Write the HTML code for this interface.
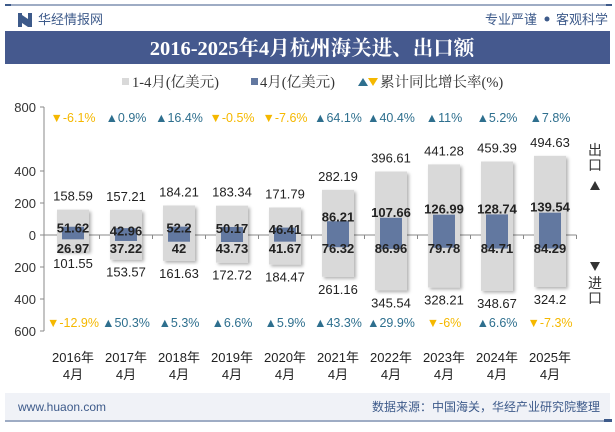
<!DOCTYPE html>
<html><head><meta charset="utf-8"><style>
body{margin:0;width:615px;height:427px;overflow:hidden;background:#fff;font-family:"Liberation Sans","Noto Sans CJK SC",sans-serif;}
</style></head><body>
<svg id="c" width="615" height="427" xmlns="http://www.w3.org/2000/svg" font-family="Liberation Sans, Noto Sans CJK SC, sans-serif">
<defs><filter id="sh" x="-20%" y="-10%" width="150%" height="130%"><feDropShadow dx="2" dy="2" stdDeviation="1.5" flood-color="#000" flood-opacity="0.3"/></filter></defs>
<rect x="0" y="0" width="615" height="427" fill="#fff"/>
<line x1="5" y1="5" x2="612" y2="5" stroke="#3d5a8a" stroke-width="1"/>
<rect x="5" y="4" width="6" height="2" fill="#3d5a8a"/><rect x="606" y="4" width="6" height="2" fill="#3d5a8a"/>
<g><rect x="18" y="13" width="4" height="14" fill="#3d5a8a"/><path d="M22 15 L28 19 L28 27 L22 23Z" fill="#3d5a8a"/><rect x="28" y="13" width="4" height="14" fill="#3d5a8a"/></g>
<text x="38" y="24" font-size="13" fill="#3d5a8a">华经情报网</text>
<text x="537" y="24" font-size="13" fill="#3d5a8a" text-anchor="end">专业严谨</text>
<circle cx="547" cy="19" r="2.5" fill="#3d5a8a"/>
<text x="608" y="24" font-size="13" fill="#3d5a8a" text-anchor="end">客观科学</text>
<rect x="5" y="31" width="605" height="33" fill="#45598e"/>
<text x="312" y="55" font-size="20.5" font-weight="bold" fill="#fff" text-anchor="middle" font-family="Liberation Serif, Noto Serif CJK SC, serif">2016-2025年4月杭州海关进、出口额</text>
<g>
<rect x="122" y="78" width="7" height="7" fill="#d9d9d9"/><text x="132" y="87" font-size="14.5" fill="#333" font-family="Liberation Serif, Noto Serif CJK SC, serif">1-4月(亿美元)</text>
<rect x="251" y="78" width="7" height="7" fill="#6278a0"/><text x="260" y="87" font-size="14.5" fill="#333" font-family="Liberation Serif, Noto Serif CJK SC, serif">4月(亿美元)</text>
<path d="M358 86 L363 78 L368 86Z" fill="#2e6f8e"/><path d="M368 78 L378 78 L373 86Z" fill="#f5b800"/>
<text x="380" y="87" font-size="14.5" fill="#333" font-family="Liberation Serif, Noto Serif CJK SC, serif">累计同比增长率(%)</text>
</g>
<g id="axes"></g><g id="marks"></g>
<text x="595" y="155" font-size="14" fill="#333" text-anchor="middle"><tspan x="595" dy="0">出</tspan><tspan x="595" dy="15">口</tspan></text>
<path d="M590 190 L595 181 L600 190Z" fill="#333"/>
<path d="M590 262 L600 262 L595 271Z" fill="#333"/>
<text x="595" y="288" font-size="14" fill="#333" text-anchor="middle"><tspan x="595" dy="0">进</tspan><tspan x="595" dy="15">口</tspan></text>
<rect x="5" y="393" width="226" height="27" fill="#f0f2f7"/><rect x="231" y="393" width="379" height="27" fill="#f0f2f7"/>
<line x1="5" y1="421" x2="605" y2="421" stroke="#3d5a8a" stroke-width="1"/><rect x="604" y="419" width="8" height="3" fill="#3d5a8a"/>
<text x="18" y="411" font-size="12" fill="#3d5a8a">www.huaon.com</text>
<text x="600" y="411" font-size="12" fill="#3d5a8a" text-anchor="end">数据来源：中国海关，华经产业研究院整理</text>
</svg>
<script>
const years=["2016","2017","2018","2019","2020","2021","2022","2023","2024","2025"];
const exp14=[158.59,157.21,184.21,183.34,171.79,282.19,396.61,441.28,459.39,494.63];
const imp14=[101.55,153.57,161.63,172.72,184.47,261.16,345.54,328.21,348.67,324.2];
const exp4=[51.62,42.96,52.2,50.17,46.41,86.21,107.66,126.99,128.74,139.54];
const imp4=[26.97,37.22,42,43.73,41.67,76.32,86.96,79.78,84.71,84.29];
const expG=[-6.1,0.9,16.4,-0.5,-7.6,64.1,40.4,11,5.2,7.8];
const impG=[-12.9,50.3,5.3,6.6,5.9,43.3,29.9,-6,6.6,-7.3];
const yTicks=[800,400,200,0,200,400,600];
const yTickVals=[800,400,200,0,-200,-400,-600];
const NS="http://www.w3.org/2000/svg";
const x0=46.5,step=53,zero=235,k=0.16;
const X=i=>x0+step*(i+0.5);
const Y=v=>zero-v*k;
function mk(p,tag,a,txt){const e=document.createElementNS(NS,tag);for(const n in a)e.setAttribute(n,a[n]);if(txt!=null)e.textContent=txt;p.appendChild(e);return e;}
const ax=document.getElementById('axes'),mg=document.getElementById('marks');
let l=mk(ax,'line',{x1:44,y1:Y(800),x2:44,y2:Y(-600),stroke:'#888'});


yTickVals.forEach((v,i)=>{mk(ax,'line',{x1:40,x2:44,y1:Y(v),y2:Y(v),stroke:'#888'});
 const t=mk(ax,'text',{x:36,y:Y(v)+5,'font-size':13,'text-anchor':'end',fill:'#333'},yTicks[i]);
 
 });
l=mk(ax,'line',{x1:44,y1:zero,x2:X(9)+step/2,y2:zero,stroke:'#888'});


years.forEach((y,i)=>{const cx=X(i);
 mk(ax,'line',{x1:cx+step/2,x2:cx+step/2,y1:zero,y2:zero+4,stroke:'#888'});
 const t=mk(ax,'text',{x:cx,y:362,'font-size':13,'text-anchor':'middle',fill:'#222'});
 
 
 mk(t,'tspan',{x:cx,dy:0},y+'年');mk(t,'tspan',{x:cx,dy:17},'4月');
 let r=mk(mg,'rect',{x:cx-16,y:Y(exp14[i]),width:32,height:(exp14[i]+imp14[i])*k,fill:'#d9d9d9',filter:'url(#sh)'});
 
 
 r=mk(mg,'rect',{x:cx-11,y:Y(exp4[i]),width:22,height:(exp4[i]+imp4[i])*k,fill:'#6278a0'});
 
 
 mk(mg,'text',{x:cx,y:Y(exp14[i])-9,'font-size':13,'text-anchor':'middle',fill:'#222'},exp14[i]);
 mk(mg,'text',{x:cx,y:Y(-imp14[i])+17,'font-size':13,'text-anchor':'middle',fill:'#222'},imp14[i]);
 mk(mg,'text',{x:cx,y:Y(exp4[i])+Math.max(0,15-exp4[i]*k)-1,'font-size':13,'font-weight':'bold','text-anchor':'middle',fill:'#222'},exp4[i]);
 mk(mg,'text',{x:cx,y:zero+18,'font-size':13,'font-weight':'bold','text-anchor':'middle',fill:'#222'},imp4[i]);
 [[expG[i],122],[impG[i],327]].forEach(([g,yy])=>{const up=g>=0;
  const t2=mk(mg,'text',{x:cx,y:yy,'font-size':12.5,'text-anchor':'middle',fill:up?'#2e6f8e':'#f5b800'},(up?'▲':'▼')+g+'%');
  
  });
});
</script>
</body></html>
